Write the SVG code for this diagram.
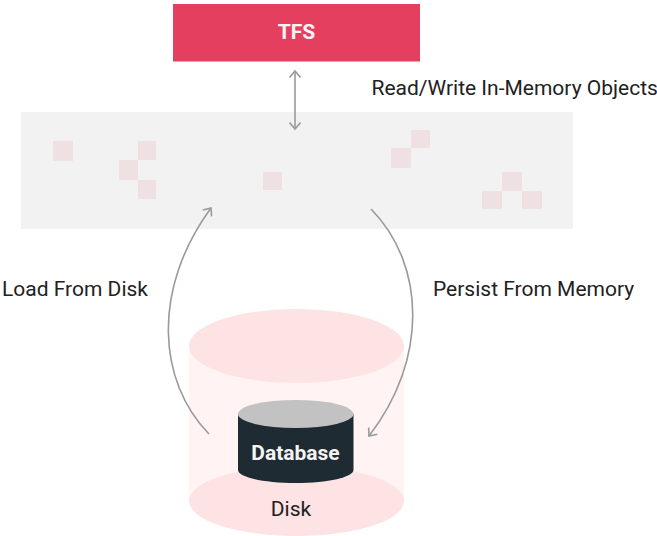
<svg xmlns="http://www.w3.org/2000/svg" width="657" height="536" viewBox="0 0 657 536">
<style>
text{font-family:Roboto,"Liberation Sans",sans-serif;fill:#212121;font-size:21px}
.b{font-weight:700;fill:#f5f5f5}
.sq{fill:#efe0e3}
.c{fill:none;stroke:#9a9a9a;stroke-width:1.6}
.h{fill:none;stroke:#9a9a9a;stroke-width:1.6;stroke-linejoin:miter}
</style>
<defs>
<marker id="a" viewBox="-10 -6 12 12" markerWidth="12" markerHeight="12" markerUnits="userSpaceOnUse" refX="0" refY="0" orient="auto-start-reverse"><path class="h" d="M-6.500 -5.500L0 0L-6.500 5.500"/></marker>
</defs>
<rect width="657" height="536" fill="#fff"/>
<g id="tfs"><rect x="173" y="4" width="247" height="57.500" fill="#e53f60"/><text class="b" x="296.500" y="39" text-anchor="middle">TFS</text></g>
<g id="memory"><rect x="21" y="112" width="552" height="117" fill="#f2f2f2"/>
<rect class="sq" x="53" y="141" width="20" height="20"/><rect class="sq" x="138" y="141" width="18" height="19"/><rect class="sq" x="119" y="160" width="19" height="20"/><rect class="sq" x="138" y="180" width="18" height="19"/><rect class="sq" x="263" y="172" width="19" height="18"/><rect class="sq" x="411" y="130" width="19" height="18"/><rect class="sq" x="391" y="148" width="20" height="20"/><rect class="sq" x="502" y="172" width="20" height="19"/><rect class="sq" x="482" y="191" width="20" height="18"/><rect class="sq" x="522" y="191" width="20" height="18"/></g>
<g id="disk"><rect x="189" y="346" width="215" height="155" fill="#fff3f3"/><ellipse cx="296.500" cy="346" rx="107.500" ry="37" fill="#fde3e3"/><ellipse cx="296.500" cy="501" rx="107.500" ry="35" fill="#fde3e3"/><text x="291" y="515.500" text-anchor="middle">Disk</text></g>
<g id="database"><path d="M238 414V470C238 477 263 483 296 483C328 483 353.500 477 353.500 470V414Z" fill="#1f2b33"/><ellipse cx="295.700" cy="414" rx="57.800" ry="14" fill="#c2c2c2"/><text class="b" x="295.500" y="459.500" text-anchor="middle">Database</text></g>
<g id="connectors">
<path class="c" d="M295 71V129" marker-start="url(#a)" marker-end="url(#a)"/>
<path class="c" d="M209 434C158 382 151 290 211 208" marker-end="url(#a)"/>
<path class="c" d="M371 209C426 265 428 360 369 436" marker-end="url(#a)"/>
</g>
<g id="labels"><text x="371.500" y="94.500">Read/Write In-Memory Objects</text><text x="2" y="296">Load From Disk</text><text x="433" y="296">Persist From Memory</text></g>
</svg>
